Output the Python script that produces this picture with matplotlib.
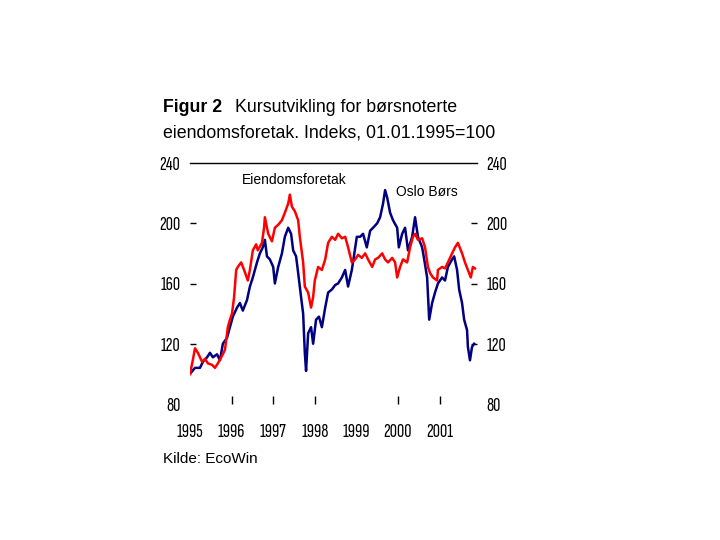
import matplotlib
matplotlib.use("Agg")
import matplotlib.pyplot as plt

# Eiendomsforetak (rød), lest av figuren: år (desimal) og indeks
eiendom_t = [1995.00, 1995.06, 1995.12, 1995.19, 1995.29, 1995.36, 1995.43, 1995.53,
             1995.60, 1995.67, 1995.77, 1995.84, 1995.91, 1995.96, 1996.01, 1996.06,
             1996.11, 1996.15, 1996.23, 1996.30, 1996.39, 1996.44, 1996.51, 1996.59,
             1996.63, 1996.73, 1996.78, 1996.80, 1996.88, 1996.97, 1997.04, 1997.12,
             1997.21, 1997.28, 1997.36, 1997.40, 1997.45, 1997.52, 1997.60, 1997.64,
             1997.72, 1997.76, 1997.84, 1997.91, 1997.96, 1998.00, 1998.08, 1998.17,
             1998.25, 1998.32, 1998.41, 1998.49, 1998.56, 1998.65, 1998.73, 1998.80,
             1998.89, 1998.97, 1999.04, 1999.13, 1999.21, 1999.28, 1999.38, 1999.45,
             1999.52, 1999.62, 1999.69, 1999.76, 1999.86, 1999.93, 1999.98, 2000.05,
             2000.12, 2000.22, 2000.29, 2000.36, 2000.41, 2000.48, 2000.58, 2000.65,
             2000.72, 2000.77, 2000.84, 2000.94, 2000.96, 2001.06, 2001.13, 2001.20,
             2001.30, 2001.37, 2001.44, 2001.54, 2001.61, 2001.68, 2001.75, 2001.80,
             2001.85]
eiendom = [100, 108, 117, 114, 108, 110, 107, 106,
           104, 107, 112, 116, 131, 136, 140, 151,
           169, 171, 174, 169, 162, 169, 182, 186,
           182, 187, 197, 204, 193, 188, 197, 199,
           202, 207, 213, 219, 211, 208, 202, 191,
           174, 158, 154, 144, 151, 162, 171, 169,
           176, 187, 191, 189, 193, 190, 191, 184,
           174, 176, 179, 177, 180, 176, 171, 176,
           177, 180, 176, 174, 177, 174, 164, 171,
           176, 174, 184, 191, 193, 189, 190, 184,
           171, 167, 164, 162, 169, 171, 170, 174,
           180, 184, 187, 180, 174, 169, 164, 171,
           170]

# Oslo Børs (mørkeblå)
oslo_t = [1995.00, 1995.12, 1995.24, 1995.31, 1995.41, 1995.48, 1995.55, 1995.65,
          1995.72, 1995.79, 1995.89, 1995.96, 1996.03, 1996.13, 1996.20, 1996.27,
          1996.37, 1996.44, 1996.51, 1996.61, 1996.68, 1996.75, 1996.80, 1996.85,
          1996.92, 1997.00, 1997.04, 1997.12, 1997.21, 1997.28, 1997.36, 1997.43,
          1997.48, 1997.55, 1997.60, 1997.67, 1997.72, 1997.76, 1997.79, 1997.84,
          1997.91, 1997.96, 1998.03, 1998.10, 1998.17, 1998.25, 1998.32, 1998.41,
          1998.49, 1998.56, 1998.65, 1998.73, 1998.80, 1998.89, 1998.94, 1999.01,
          1999.09, 1999.16, 1999.25, 1999.33, 1999.40, 1999.50, 1999.57, 1999.64,
          1999.69, 1999.74, 1999.81, 1999.88, 1999.98, 2000.02, 2000.10, 2000.17,
          2000.24, 2000.34, 2000.41, 2000.48, 2000.58, 2000.63, 2000.70, 2000.75,
          2000.82, 2000.89, 2000.96, 2001.06, 2001.13, 2001.20, 2001.30, 2001.35,
          2001.42, 2001.47, 2001.54, 2001.59, 2001.66, 2001.68, 2001.73, 2001.78,
          2001.83]
oslo = [100, 104, 104, 108, 111, 114, 111, 113,
        109, 120, 124, 131, 138, 144, 147, 142,
        149, 158, 164, 174, 180, 184, 189, 178,
        176, 171, 160, 171, 180, 191, 197, 193,
        182, 178, 167, 151, 140, 114, 102, 127,
        131, 120, 136, 138, 131, 144, 154, 156,
        159, 160, 164, 169, 158, 169, 178, 191,
        191, 193, 184, 195, 197, 200, 204, 213,
        222, 217, 207, 202, 197, 184, 193, 197,
        182, 191, 204, 191, 184, 176, 164, 136,
        147, 154, 160, 164, 162, 171, 176, 178,
        169, 156, 147, 136, 129, 118, 109, 118,
        120]

y_ticks = [80, 120, 160, 200, 240]
x_tick_years = [1996, 1997, 1998, 2000, 2001]
x_label_years = [1995, 1996, 1997, 1998, 1999, 2000, 2001]

narrow = ["Sofia Sans Extra Condensed", "Liberation Sans Narrow", "DejaVu Sans"]
arial = ["Liberation Sans", "DejaVu Sans"]

fig = plt.figure(figsize=(7.2, 5.4), dpi=100)
ax = fig.add_axes([190/720, 1 - 404/540, 287/720, 241/540])

ax.plot(oslo_t, oslo, color="#000080", lw=1.8)
ax.plot(eiendom_t, eiendom, color="#ff0000", lw=1.8)

ax.set_xlim(1995.0, 1995 + 287/41.6)
ax.set_ylim(80, 240)

for s in ["left", "right", "bottom"]:
    ax.spines[s].set_visible(False)
ax.spines["top"].set_linewidth(1.0)

# venstre og høyre akse
ax.set_yticks(y_ticks)
ax.set_yticklabels([str(v) for v in y_ticks], family=narrow, fontsize=14.5)
ax.tick_params(axis="y", direction="in", length=4, width=1, pad=7,
               left=True, right=True, labelleft=True, labelright=True)
for tl in ax.yaxis.get_ticklines():
    if tl.get_ydata()[0] in (80, 240):
        tl.set_visible(False)

# x-akse: små streker og årstall
ax.set_xticks(x_tick_years)
ax.set_xticklabels([])
ax.tick_params(axis="x", direction="in", length=6, width=1)
for yr in x_label_years:
    ax.text(yr, -0.115, str(yr), transform=ax.get_xaxis_transform(),
            ha="center", va="center", family=narrow, fontsize=14.5)

ax.text(1996.25, 229, "Eiendomsforetak", ha="left", va="center",
        family=arial, fontsize=10)
ax.text(1999.95, 221, "Oslo Børs", ha="left", va="center",
        family=arial, fontsize=10)

fig.text(163/720, 1 - 108/540, "Figur 2", family=arial, fontsize=12.8,
         fontweight="bold", ha="left", va="center")
fig.text(235/720, 1 - 108/540, "Kursutvikling for børsnoterte", family=arial,
         fontsize=12.8, ha="left", va="center")
fig.text(163/720, 1 - 133/540, "eiendomsforetak. Indeks, 01.01.1995=100",
         family=arial, fontsize=12.8, ha="left", va="center")
fig.text(163/720, 1 - 459/540, "Kilde: EcoWin", family=arial, fontsize=11,
         ha="left", va="center")

fig.savefig("out.png", dpi=100)
